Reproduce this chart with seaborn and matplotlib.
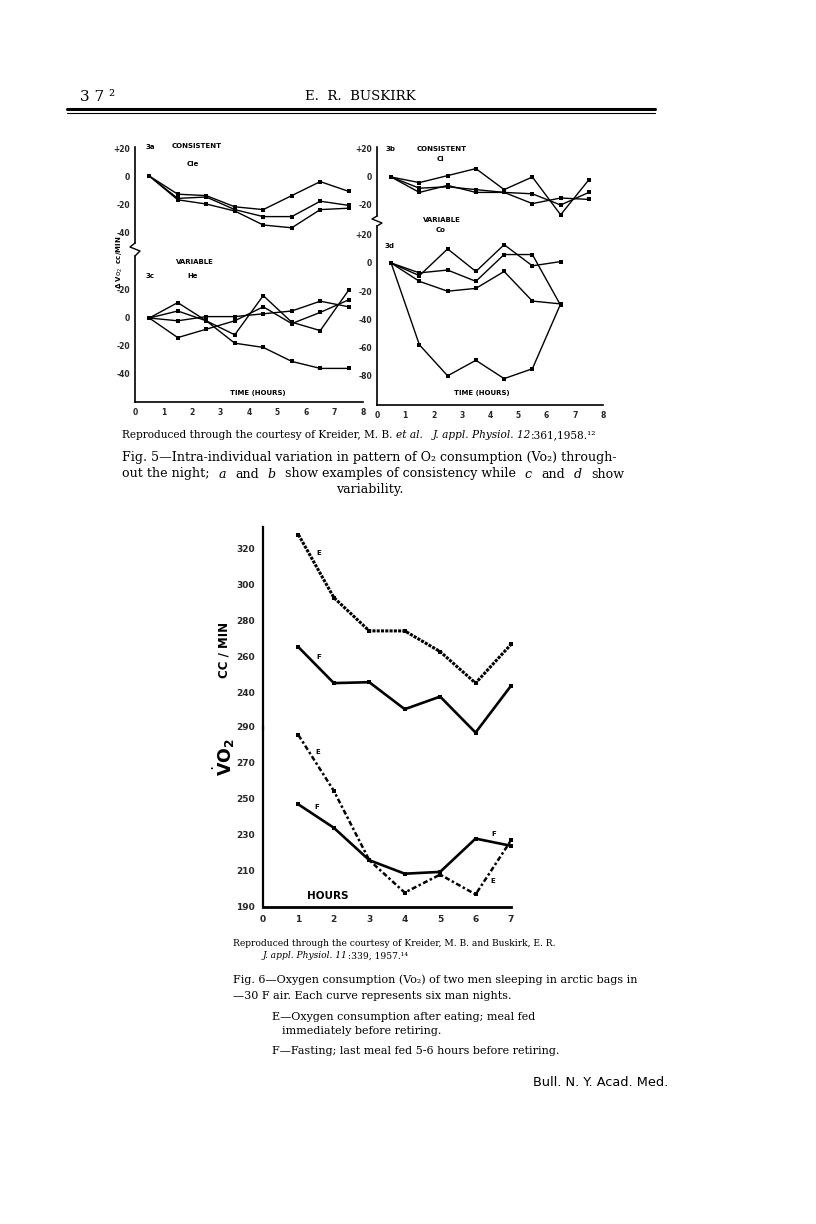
import matplotlib
matplotlib.use("Agg")
import matplotlib.pyplot as plt
from matplotlib.lines import Line2D
import seaborn as sns

# ---------------- data ----------------
hours_half = [0.5, 1.5, 2.5, 3.5, 4.5, 5.5, 6.5, 7.5]
hours_half_d = [0.5, 1.5, 2.5, 3.5, 4.5, 5.5, 6.5]

# Fig 5a  CONSISTENT (Cle)
a_1 = [0, -13, -14, -22, -24, -14, -4, -11]
a_2 = [0, -16, -15, -24, -29, -29, -18, -21]
a_3 = [0, -17, -20, -25, -35, -37, -24, -23]
# Fig 5c  VARIABLE (He)
c_1 = [0, 5, -2, -18, -21, -31, -36, -36]
c_2 = [0, 11, -2, -12, 16, -3, -9, 20]
c_3 = [0, -14, -8, -2, 8, -4, 4, 13]
c_4 = [0, -2, 1, 1, 3, 5, 12, 8]
# Fig 5b  CONSISTENT (Ci)
b_1 = [0, -4, 1, 6, -9, 0, -27, -2]
b_2 = [0, -8, -7, -9, -11, -12, -20, -11]
b_3 = [0, -11, -6, -11, -11, -19, -15, -16]
# Fig 5d  VARIABLE (Co)
d_1 = [0, -58, -80, -69, -82, -75, -29]
d_2 = [0, -9, 10, -6, 13, -2, 1]
d_3 = [0, -7, -5, -13, 6, 6, -30]
d_4 = [0, -13, -20, -18, -6, -27, -29]

# Fig 6
hours6 = [1, 2, 3, 4, 5, 6, 7]
upper_E = [328, 293, 274.5, 274.5, 263, 245.5, 267]
upper_F = [265.5, 245.5, 246, 231, 238, 218, 244]
lower_E = [285.5, 254.5, 216, 198, 208, 197, 227]
lower_F = [247, 234, 216, 208.5, 209.5, 228, 224]

fig5_xticks = [0, 1, 2, 3, 4, 5, 6, 7, 8]
fig6_xticks = [0, 1, 2, 3, 4, 5, 6, 7]
fig6_upper_yticks = [240, 260, 280, 300, 320]
fig6_lower_yticks = [190, 210, 230, 250, 270, 290]

# ---------------- figure ----------------
sns.set_theme(style="white")
plt.rcParams["font.family"] = ["DejaVu Sans"]
W, H = 816, 1224
fig = plt.figure(figsize=(W / 100, H / 100), dpi=100)
fig.patch.set_facecolor("white")
renderer = fig.canvas.get_renderer()


def ax_at(x0, y0, x1, y1):
    ax = fig.add_axes([x0 / W, 1 - y1 / H, (x1 - x0) / W, (y1 - y0) / H])
    ax.set_facecolor("none")
    for s in ["top", "right", "bottom"]:
        ax.spines[s].set_visible(False)
    ax.spines["left"].set_color("black")
    ax.spines["left"].set_linewidth(1.2)
    ax.grid(False)
    return ax


def T(x, y, s, size=6, weight="bold", ha="center", va="center", family=None, **kw):
    fam = family if family is not None else ["DejaVu Sans"]
    return fig.text(x / W, 1 - y / H, s, fontsize=size, fontweight=weight, ha=ha, va=va,
                    family=fam, color="black", **kw)


def seq(x, y, parts, size, family):
    """Place text pieces one after another on a line (pieces: (text, style, gap_px))."""
    for s, style, gap in parts:
        t = T(x, y, s, size=size, weight="normal", ha="left", family=family, style=style)
        bb = t.get_window_extent(renderer=renderer)
        x += bb.width + gap


def fline(pts, lw=1.0):
    xs = [p[0] / W for p in pts]
    ys = [1 - p[1] / H for p in pts]
    fig.add_artist(Line2D(xs, ys, transform=fig.transFigure, color="black", lw=lw))


def draw(ax, x, y, lw=1.0, ls="-", ms=2.2):
    sns.lineplot(x=x, y=y, ax=ax, color="black", lw=lw, linestyle=ls, marker="s",
                 markersize=ms, markeredgewidth=0, legend=False, clip_on=False)


tick_small = dict(labelsize=5.5, length=3, width=1, color="black", pad=2)

# ---- Fig 5 left upper (a)
ax_a = ax_at(135, 147, 363, 243)
ax_a.set_xlim(0, 8)
ax_a.set_ylim(-(243 - 176) / 1.4, (176 - 147) / 1.4)
for ser in (a_1, a_2, a_3):
    draw(ax_a, hours_half, ser)
ax_a.set_yticks([20, 0, -20, -40])
ax_a.set_yticklabels(["+20", "0", "-20", "-40"], fontweight="bold")
ax_a.set_xticks([])
ax_a.tick_params(axis="y", direction="inout", **tick_small)
ax_a.set_xlabel(""); ax_a.set_ylabel("")

# ---- Fig 5 left lower (c)
ax_c = ax_at(135, 256, 363, 402)
ax_c.spines["bottom"].set_visible(True)
ax_c.spines["bottom"].set_color("black")
ax_c.spines["bottom"].set_linewidth(1.2)
ax_c.set_xlim(0, 8)
ax_c.set_ylim(-(402 - 318) / 1.4, (318 - 256) / 1.4)
for ser in (c_1, c_2, c_3, c_4):
    draw(ax_c, hours_half, ser)
ax_c.set_yticks([40, 20, 0, -20, -40])
ax_c.set_yticklabels(["", "-20", "0", "-20", "-40"], fontweight="bold")
ax_c.set_xticks(fig5_xticks)
ax_c.set_xticklabels([str(v) for v in fig5_xticks], fontweight="bold")
ax_c.tick_params(axis="y", direction="inout", **tick_small)
ax_c.tick_params(axis="x", direction="in", labelsize=5.5, length=3, width=1, color="black", pad=4)
ax_c.set_xlabel(""); ax_c.set_ylabel("")

# ---- Fig 5 right upper (b)
ax_b = ax_at(377, 147, 603, 216)
ax_b.set_xlim(0, 8)
ax_b.set_ylim(-(216 - 177) / 1.4, (177 - 147) / 1.4)
for ser in (b_1, b_2, b_3):
    draw(ax_b, hours_half, ser)
ax_b.set_yticks([20, 0, -20])
ax_b.set_yticklabels(["+20", "0", "-20"], fontweight="bold")
ax_b.set_xticks([])
ax_b.tick_params(axis="y", direction="inout", **tick_small)
ax_b.set_xlabel(""); ax_b.set_ylabel("")

# ---- Fig 5 right lower (d)
ax_d = ax_at(377, 226, 603, 405)
ax_d.spines["bottom"].set_visible(True)
ax_d.spines["bottom"].set_color("black")
ax_d.spines["bottom"].set_linewidth(1.2)
ax_d.set_xlim(0, 8)
ax_d.set_ylim(-(405 - 263) / 1.41, (263 - 226) / 1.41)
for ser in (d_1, d_2, d_3, d_4):
    draw(ax_d, hours_half_d, ser)
ax_d.set_yticks([20, 0, -20, -40, -60, -80])
ax_d.set_yticklabels(["+20", "0", "-20", "-40", "-60", "-80"], fontweight="bold")
ax_d.set_xticks(fig5_xticks)
ax_d.set_xticklabels([str(v) for v in fig5_xticks], fontweight="bold")
ax_d.tick_params(axis="y", direction="inout", **tick_small)
ax_d.tick_params(axis="x", direction="in", labelsize=5.5, length=3, width=1, color="black", pad=4)
ax_d.set_xlabel(""); ax_d.set_ylabel("")

# break marks
fline([(135, 243), (130, 247), (140, 251), (135, 256)], lw=1.0)
fline([(377, 216), (372, 219), (382, 223), (377, 226)], lw=1.0)

# Fig 5 panel texts
T(150, 147, "3a", size=5)
T(197, 146, "CONSISTENT", size=5)
T(193, 164, "Cle", size=5)
T(195, 262, "VARIABLE", size=5)
T(150, 276, "3c", size=5)
T(193, 276, "He", size=5)
T(258, 393, "TIME (HOURS)", size=5)
T(391, 149, "3b", size=5)
T(442, 149, "CONSISTENT", size=5)
T(440, 159, "Ci", size=5)
T(442, 220, "VARIABLE", size=5)
T(441, 230, "Co", size=5)
T(390, 246, "3d", size=5)
T(482, 393, "TIME (HOURS)", size=5)
T(120, 262, r"Δ V$\mathrm{o}_2$  cc/MIN", size=5, rotation=90)

# ---- Fig 6 upper
lw6 = 1.9
ax_u = ax_at(263, 527, 511, 729)
ax_u.set_xlim(0, 7)
ax_u.set_ylim(220, 220 + (729 - 527) / 1.8)
draw(ax_u, hours6, upper_E, lw=2.2, ls=(0, (1, 0.4)), ms=3)
draw(ax_u, hours6, upper_F, lw=lw6, ms=3)
ax_u.set_yticks(fig6_upper_yticks)
ax_u.set_yticklabels([str(v) for v in fig6_upper_yticks], fontweight="bold")
ax_u.set_xticks([])
ax_u.tick_params(axis="y", direction="out", labelsize=6.5, length=4, width=1.2, color="black", pad=2)
ax_u.spines["left"].set_linewidth(1.6)
ax_u.set_xlabel(""); ax_u.set_ylabel("")

# ---- Fig 6 lower
ax_l = ax_at(263, 727, 511, 907)
ax_l.spines["bottom"].set_visible(True)
ax_l.spines["bottom"].set_color("black")
ax_l.spines["bottom"].set_linewidth(2.0)
ax_l.spines["left"].set_linewidth(1.6)
ax_l.set_xlim(0, 7)
ax_l.set_ylim(190, 290)
draw(ax_l, hours6, lower_E, lw=1.8, ls=(0, (2, 1, 1, 1)), ms=3)
draw(ax_l, hours6, lower_F, lw=lw6, ms=3)
ax_l.set_yticks(fig6_lower_yticks)
ax_l.set_yticklabels([str(v) for v in fig6_lower_yticks], fontweight="bold")
ax_l.set_xticks(fig6_xticks)
ax_l.set_xticklabels([str(v) for v in fig6_xticks], fontweight="bold")
ax_l.tick_params(axis="y", direction="out", labelsize=6.5, length=4, width=1.2, color="black", pad=2)
ax_l.tick_params(axis="x", direction="inout", labelsize=6.5, length=5, width=1.2, color="black", pad=3)
ax_l.set_xlabel(""); ax_l.set_ylabel("")

T(319, 553, "E", size=5)
T(319, 657, "F", size=5)
T(318, 752, "E", size=5)
T(317, 807, "F", size=5)
T(494, 834, "F", size=5)
T(493, 881, "E", size=5)
T(328, 896, "HOURS", size=7.5)
T(224, 650, "CC / MIN", size=8.5, rotation=90)
T(224, 757, r"$\dot{\mathbf{V}}\mathbf{O}_{\mathbf{2}}$", size=12.5, rotation=90, weight="normal")

# ---- page texts
serif = ["DejaVu Serif"]
T(80, 97, "3 7 ²", size=11, weight="normal", ha="left", family=serif)
T(360, 97, "E.  R.  BUSKIRK", size=9.5, weight="normal", family=serif)
fline([(67, 109), (655, 109)], lw=2.2)
fline([(67, 113), (655, 113)], lw=0.8)

seq(122, 435, [("Reproduced through the courtesy of Kreider, M. B.", "normal", 4),
               ("et al.", "italic", 9),
               ("J. appl. Physiol. 12", "italic", 0),
               (":361,1958.¹²", "normal", 0)], size=7.6, family=serif)
T(122, 458, "Fig. 5—Intra-individual variation in pattern of O₂ consumption (Vo₂) through-",
  size=9.1, weight="normal", ha="left", family=serif)
seq(122, 474, [("out the night;", "normal", 9), ("a", "italic", 9), ("and", "normal", 9),
               ("b", "italic", 9),
               ("show examples of consistency while", "normal", 9), ("c", "italic", 9),
               ("and", "normal", 9), ("d", "italic", 9), ("show", "normal", 0)],
    size=9.1, family=serif)
T(370, 490, "variability.", size=9.1, weight="normal", family=serif)

T(233, 943, "Reproduced through the courtesy of Kreider, M. B. and Buskirk, E. R.",
  size=6.6, weight="normal", ha="left", family=serif)
seq(263, 956, [("J. appl. Physiol. 11", "italic", 0), (":339, 1957.¹⁴", "normal", 0)],
    size=6.6, family=serif)
T(233, 980, "Fig. 6—Oxygen consumption (Vo₂) of two men sleeping in arctic bags in",
  size=8, weight="normal", ha="left", family=serif)
T(233, 996, "—30 F air. Each curve represents six man nights.",
  size=8, weight="normal", ha="left", family=serif)
T(272, 1017, "E—Oxygen consumption after eating; meal fed",
  size=8, weight="normal", ha="left", family=serif)
T(282, 1031, "immediately before retiring.", size=8, weight="normal", ha="left", family=serif)
T(272, 1051, "F—Fasting; last meal fed 5-6 hours before retiring.",
  size=8, weight="normal", ha="left", family=serif)
T(533, 1082, "Bull. N. Y. Acad. Med.", size=9.3, weight="normal", ha="left",
  family=["DejaVu Sans"])

fig.savefig("out.png", dpi=100)
